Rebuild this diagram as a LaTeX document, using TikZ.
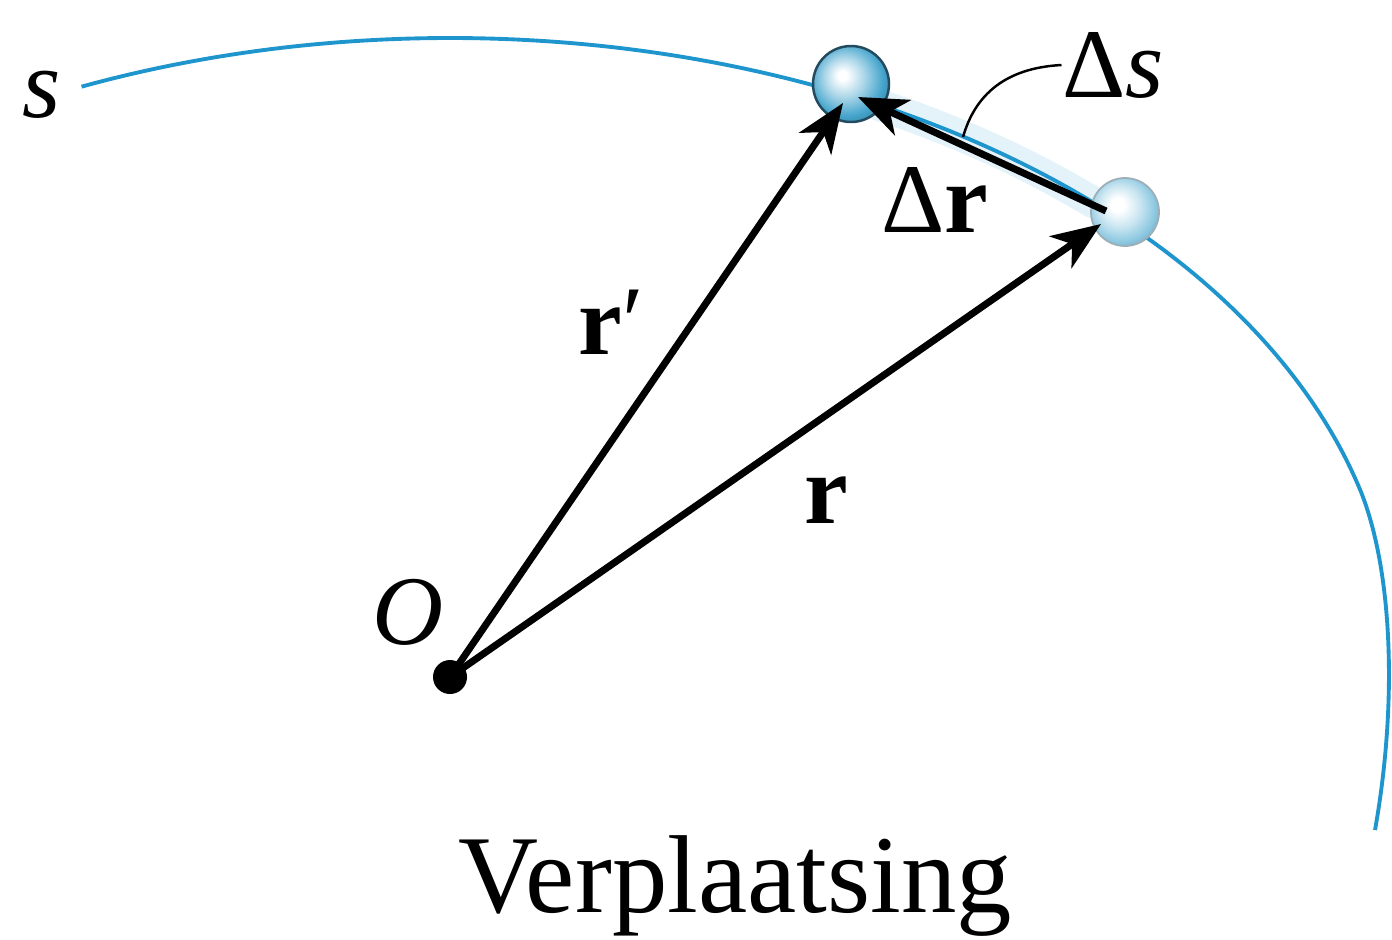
\documentclass[tikz,border=0pt]{standalone}
\usepackage{fontspec}
\setmainfont{Liberation Serif}
\usetikzlibrary{arrows.meta}
\definecolor{pathblue}{RGB}{30,150,205}
\definecolor{ballA}{RGB}{70,165,205}
\definecolor{ballB}{RGB}{140,200,225}
\definecolor{balledge}{RGB}{35,75,95}
\pgfdeclareradialshading{ballone}{\pgfpoint{-6bp}{6bp}}{color(0bp)=(white); color(3bp)=(white); color(13bp)=(ballA!45!white); color(24bp)=(ballA); color(31bp)=(ballA!80!black); color(50bp)=(ballA!80!black)}
\pgfdeclareradialshading{balltwo}{\pgfpoint{-6bp}{6bp}}{color(0bp)=(white); color(5bp)=(white); color(15bp)=(ballB!45!white); color(25bp)=(ballB); color(31bp)=(ballB!85!black); color(50bp)=(ballB!85!black)}
\tikzset{
  vec/.style={line width=2pt,-{Stealth[length=14pt,width=11pt,inset=4pt]}},
  lbl/.style={font=\fontsize{28}{30}\selectfont, inner sep=0pt},
}
\begin{document}
\begin{tikzpicture}[x=0.01cm,y=-0.01cm]
\useasboundingbox (0,0) rectangle (1392,939);
% path s
\draw[pathblue, line width=1.1pt] plot[domain=113:15, samples=99, smooth] ({450+943*cos(\x)}, {650-612*sin(\x)}) .. controls (1392,570) and (1398,700) .. (1375,830);
% glow
\draw[pathblue, line width=9pt, opacity=0.12, line cap=round] plot[domain=63:47, samples=17, smooth] ({450+943*cos(\x)}, {650-612*sin(\x)});
% particles
\shade[shading=ballone] (851,84) circle (38);
\draw[balledge, line width=0.7pt] (851,84) circle (38);
\shade[shading=balltwo] (1125,212) circle (34);
\draw[balledge!45, line width=0.5pt] (1125,212) circle (34);
% origin
\fill (450,677) circle (17);
\coordinate (O) at (450,677);
\coordinate (P1) at (843,103);
\coordinate (P2) at (1101,224);
\coordinate (P2s) at (1106,211);
\coordinate (P1s) at (858,97);
% vectors
\draw[vec] (O) -- (P1);
\draw[vec] (O) -- (P2);
\draw[vec] (P2s) -- (P1s);
% labels
\node[lbl] (s) at (42,95) {\textit{s}};
\node[lbl] (Olbl) at (408,612) {\textit{O}};
\node[lbl] (rp) at (611,322) {\textbf{r}′};
\node[lbl] (r) at (826,500) {\textbf{r}};
\node[lbl] (dr) at (935,200) {Δ\textbf{r}};
\node[lbl] (ds) at (1113,65) {Δ\textit{s}};
\coordinate (dsfoot) at (963,137);
\draw[line width=0.7pt] (dsfoot) .. controls (975,95) and (1005,68) .. (ds.west);
\node[font=\fontsize{31.5}{36}\selectfont, inner sep=0pt] (title) at (735,886) {Verplaatsing};
\end{tikzpicture}
\end{document}
